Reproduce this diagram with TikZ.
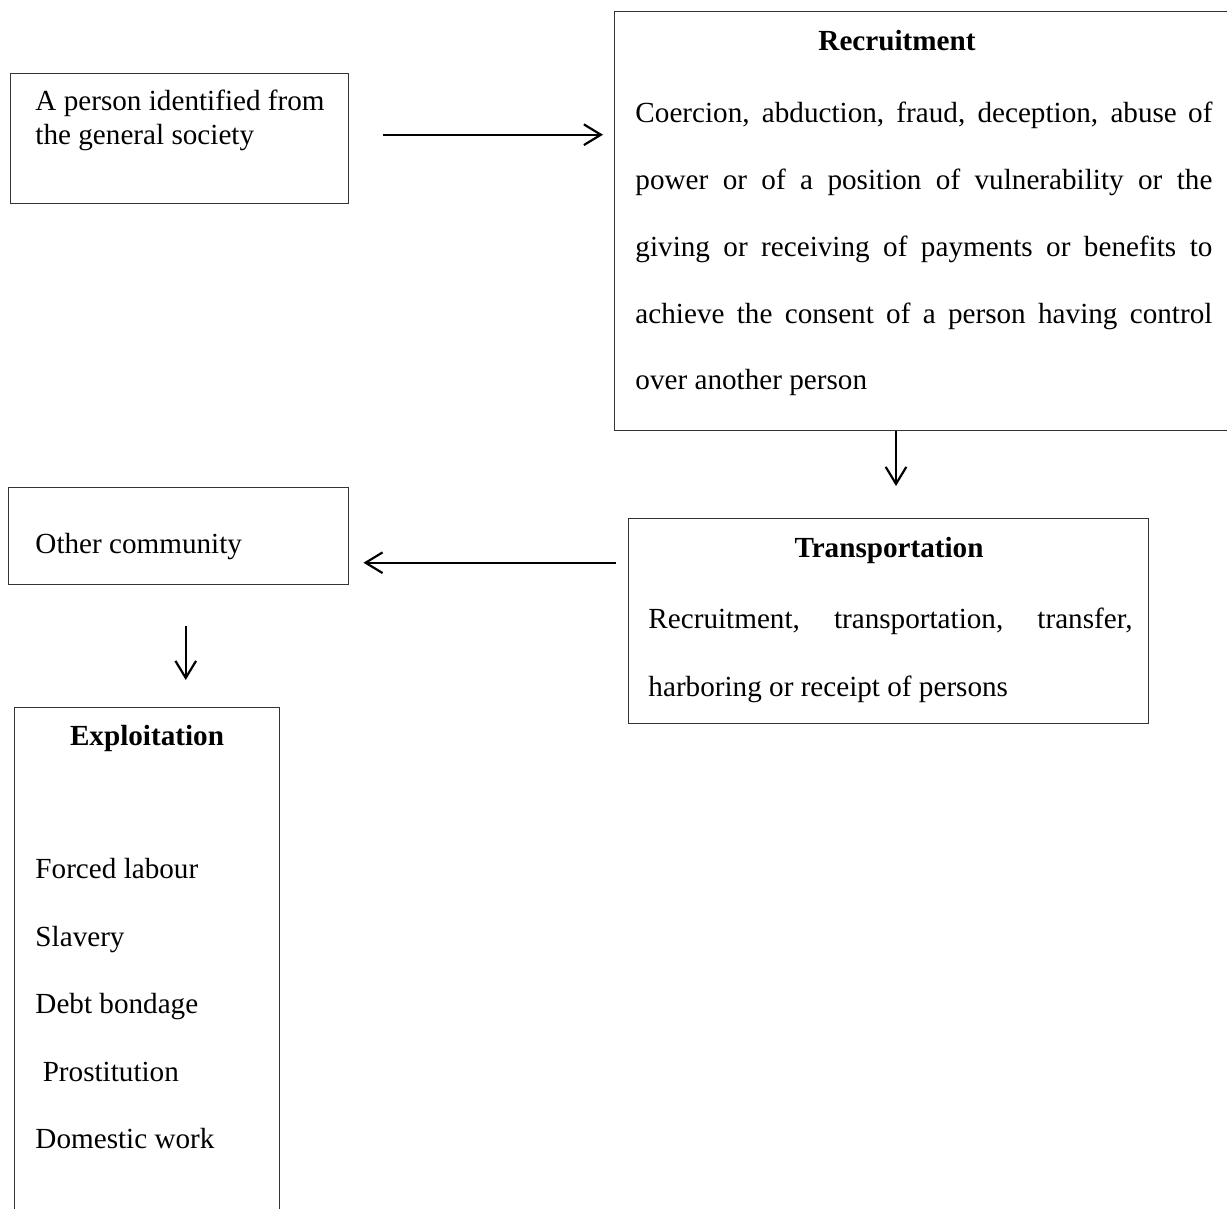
\documentclass[tikz,border=0pt]{standalone}
\usepackage{fontspec}
\setmainfont{Liberation Serif}
\usetikzlibrary{arrows.meta,calc,positioning}

\def\px{0.4115pt}

\begin{document}
\begin{tikzpicture}[x=\px,y=-\px,font=\fontsize{12}{13.8}\selectfont]
    \tikzstyle{box}=[draw=black!80,line width=0.6pt,anchor=north west,inner sep=0pt]
    \tikzstyle{txt}=[inner sep=0pt,anchor=base west]
    \tikzstyle{head}=[inner sep=0pt,anchor=base,font=\fontsize{12}{13.8}\selectfont\bfseries]
    \tikzstyle{arrow}=[-{Straight Barb[length=7pt,width=8.5pt]},line width=0.9pt]

    \path[use as bounding box] (0,0) rectangle (1227,1209);
    \clip (0,0) rectangle (1227,1209);

    % boxes
    \node[box,minimum width=338*\px,minimum height=130*\px] (person) at (10,73) {};
    \node[box,minimum width=640*\px,minimum height=419*\px] (recruit) at (614,11) {};
    \node[box,minimum width=340*\px,minimum height=97*\px] (other) at (8,487) {};
    \node[box,minimum width=520*\px,minimum height=205*\px] (transport) at (628,518) {};
    \node[box,minimum width=265*\px,minimum height=520*\px] (exploit) at (14,707) {};

    % texts
    \node[txt] (person-1) at (35,111) {A person identified from};
    \node[txt] (person-2) at (35,144.5) {the general society};

    \node[head] (recruit-h) at (897,51) {Recruitment};
    \foreach \line [count=\i] in {{Coercion, abduction, fraud, deception, abuse of},
                                  {power or of a position of vulnerability or the},
                                  {giving or receiving of payments or benefits to},
                                  {achieve the consent of a person having control}}
        \node[txt] (recruit-\i) at (635,123+66.75*\i-66.75) {\makebox[237.4pt][s]{\line}};
    \node[txt] (recruit-5) at (635,390) {over another person};

    \node[txt] (other-t) at (35,553) {Other community};

    \node[head] (transport-h) at (889,557) {Transportation};
    \node[txt] (transport-1) at (648,628) {\makebox[199.2pt][s]{Recruitment, transportation, transfer,}};
    \node[txt] (transport-2) at (648,696) {harboring or receipt of persons};

    \node[head] (exploit-h) at (147,745) {Exploitation};
    \foreach \item/\y in {Forced labour/878, Slavery/946, Debt bondage/1013,
                          {\ Prostitution}/1081, Domestic work/1148}
        \node[txt] at (35,\y) {\item};

    % connectors
    \draw[arrow] ($(person.east)+(34,-4)$) -- ($(person.east -| recruit.west)+(-11,-4)$);
    \draw[arrow] ($(recruit.south west)+(282,0)$) -- ($(transport.north west)+(268,-32)$);
    \draw[arrow] ($(transport.west)+(-12,-58.5)$) -- ($(other.east)+(14,26.5)$);
    \draw[arrow] ($(other.south)+(7,41)$) -- ($(exploit.north)+(38.5,-27)$);
\end{tikzpicture}
\end{document}
